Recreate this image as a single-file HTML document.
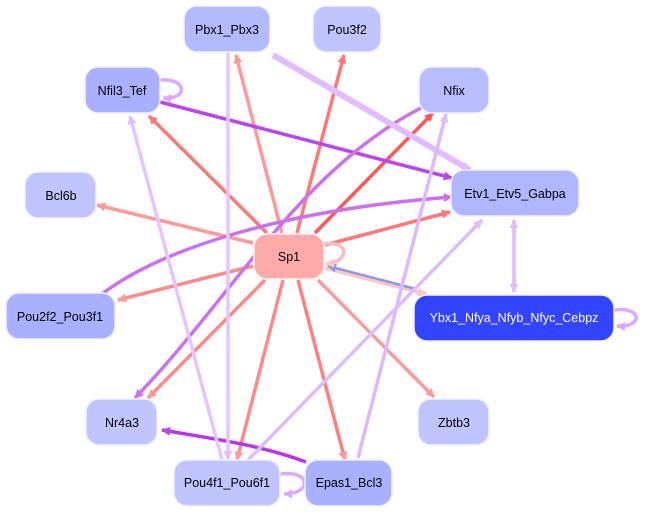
<!DOCTYPE html>
<html><head><meta charset="utf-8"><style>
html,body{margin:0;padding:0;background:#fff;}
svg{display:block;font-family:"Liberation Sans",sans-serif;}
</style></head><body>
<svg width="645" height="512" viewBox="0 0 645 512" xmlns="http://www.w3.org/2000/svg">
<defs>
<marker id="r1" viewBox="0 0 10 10" refX="9" refY="5" markerWidth="11" markerHeight="9" markerUnits="userSpaceOnUse" orient="auto"><path d="M0,0L10,5L0,10z" fill="#ff9999"/></marker>
<marker id="r2" viewBox="0 0 10 10" refX="9" refY="5" markerWidth="11" markerHeight="9" markerUnits="userSpaceOnUse" orient="auto"><path d="M0,0L10,5L0,10z" fill="#ff7777"/></marker>
<marker id="r3" viewBox="0 0 10 10" refX="9" refY="5" markerWidth="11" markerHeight="9" markerUnits="userSpaceOnUse" orient="auto"><path d="M0,0L10,5L0,10z" fill="#ff5555"/></marker>
<marker id="r4" viewBox="0 0 10 10" refX="9" refY="5" markerWidth="11" markerHeight="9" markerUnits="userSpaceOnUse" orient="auto"><path d="M0,0L10,5L0,10z" fill="#ffc4c4"/></marker>
<marker id="b1" viewBox="0 0 10 10" refX="9" refY="5" markerWidth="11" markerHeight="9" markerUnits="userSpaceOnUse" orient="auto"><path d="M0,0L10,5L0,10z" fill="#8899ee"/></marker>
<marker id="p1" viewBox="0 0 10 10" refX="9" refY="5" markerWidth="11" markerHeight="9" markerUnits="userSpaceOnUse" orient="auto"><path d="M0,0L10,5L0,10z" fill="#bb44ee"/></marker>
<marker id="p2" viewBox="0 0 10 10" refX="9" refY="5" markerWidth="11" markerHeight="9" markerUnits="userSpaceOnUse" orient="auto"><path d="M0,0L10,5L0,10z" fill="#cc70f0"/></marker>
<marker id="p3" viewBox="0 0 10 10" refX="9" refY="5" markerWidth="11" markerHeight="9" markerUnits="userSpaceOnUse" orient="auto"><path d="M0,0L10,5L0,10z" fill="#e2bcff"/></marker>
<marker id="p4" viewBox="0 0 10 10" refX="9" refY="5" markerWidth="11" markerHeight="9" markerUnits="userSpaceOnUse" orient="auto"><path d="M0,0L10,5L0,10z" fill="#dda8ff"/></marker>
</defs>
<g fill="none" stroke-width="3.5">
<line x1="282" y1="233" x2="236" y2="55" stroke="#ff9999" marker-end="url(#r1)"/>
<line x1="297" y1="233" x2="344" y2="55" stroke="#ff7777" marker-end="url(#r2)"/>
<line x1="267" y1="233" x2="149" y2="116" stroke="#ff7777" marker-end="url(#r2)"/>
<line x1="315" y1="233" x2="433" y2="113" stroke="#ff5555" marker-end="url(#r3)"/>
<line x1="253" y1="243" x2="97" y2="205" stroke="#ff9999" marker-end="url(#r1)"/>
<line x1="325" y1="245" x2="450" y2="212" stroke="#ff7777" marker-end="url(#r2)"/>
<line x1="253" y1="266" x2="118" y2="300" stroke="#ff8888" marker-end="url(#r1)"/>
<line x1="265" y1="280" x2="148" y2="398" stroke="#ff8888" marker-end="url(#r1)"/>
<line x1="318" y1="280" x2="434" y2="397" stroke="#ff9999" marker-end="url(#r1)"/>
<line x1="283" y1="280" x2="237" y2="460" stroke="#ff8888" marker-end="url(#r1)"/>
<line x1="298" y1="280" x2="345" y2="460" stroke="#ff8080" marker-end="url(#r1)"/>
<line x1="325" y1="268" x2="426" y2="294" stroke="#ffc4c4" marker-end="url(#r4)"/>
<line x1="416" y1="289" x2="328" y2="266" stroke="#8899ee" stroke-width="2.5" marker-end="url(#b1)"/>
<path d="M324,244 C350,240 350,262 326,264" stroke="#ffbbbb" marker-end="url(#r4)"/>
<line x1="160" y1="102" x2="452" y2="178" stroke="#bb44ee" marker-end="url(#p1)"/>
<path d="M421,108 C300,170 230,300 135,398" stroke="#cc70f0" marker-end="url(#p2)"/>
<path d="M102,294 C160,250 280,210 452,197" stroke="#cc70f0" marker-end="url(#p2)"/>
<path d="M306,462 C260,445 220,440 162,430" stroke="#bb33ee" marker-end="url(#p1)"/>
<line x1="273" y1="55" x2="470" y2="170" stroke="#e2bcff" stroke-width="6" marker-end="url(#p3)"/>
<line x1="228" y1="52" x2="228" y2="459" stroke="#e6c4ff" marker-end="url(#p3)"/>
<line x1="222" y1="460" x2="130" y2="116" stroke="#e6c4ff" marker-end="url(#p3)"/>
<line x1="358" y1="458" x2="446" y2="114" stroke="#ddb8ff" marker-end="url(#p3)"/>
<line x1="248" y1="460" x2="482" y2="220" stroke="#ddbbff" marker-end="url(#p3)"/>
<line x1="514" y1="292" x2="514" y2="220" stroke="#e2bcff" marker-end="url(#p3)"/>
<line x1="514" y1="223" x2="514" y2="292" stroke="#e2bcff" marker-end="url(#p3)"/>
<path d="M160,80 C188,78 188,100 163,98" stroke="#dda8ff" marker-end="url(#p4)"/>
<path d="M614,310 C643,306 643,328 617,326" stroke="#dda8ff" marker-end="url(#p4)"/>
<path d="M280,474 C312,470 312,494 284,494" stroke="#dda8ff" marker-end="url(#p4)"/>
</g>
<g stroke="#f0f0ff" stroke-width="1.5">
<rect x="184" y="6" width="86" height="46" rx="13" fill="#b4baff"/>
<rect x="313" y="6" width="68" height="46" rx="13" fill="#c0c4ff"/>
<rect x="85" y="67" width="75" height="46" rx="13" fill="#a9b0ff"/>
<rect x="419" y="67" width="70" height="46" rx="13" fill="#b8bdff"/>
<rect x="25" y="172" width="71" height="46" rx="13" fill="#c0c4ff"/>
<rect x="451" y="170" width="128" height="46" rx="13" fill="#b0b6ff"/>
<rect x="254" y="234" width="70" height="45" rx="13" fill="#ffaaaa" stroke="#fff0f0"/>
<rect x="6" y="293" width="109" height="46" rx="13" fill="#a9b0ff"/>
<rect x="414" y="295" width="200" height="46" rx="13" fill="#3344ff"/>
<rect x="86" y="399" width="71" height="46" rx="13" fill="#c0c4ff"/>
<rect x="418" y="399" width="71" height="46" rx="13" fill="#c0c4ff"/>
<rect x="174" y="460" width="106" height="46" rx="13" fill="#c0c4ff"/>
<rect x="305" y="460" width="87" height="46" rx="13" fill="#a9b0ff"/>
</g>
<g font-size="12.5" text-anchor="middle" fill="#000">
<text x="227" y="34">Pbx1_Pbx3</text>
<text x="347" y="34">Pou3f2</text>
<text x="122" y="95">Nfil3_Tef</text>
<text x="454" y="95">Nfix</text>
<text x="61" y="200">Bcl6b</text>
<text x="515" y="198">Etv1_Etv5_Gabpa</text>
<text x="289" y="261">Sp1</text>
<text x="60" y="321">Pou2f2_Pou3f1</text>
<text x="514" y="322" fill="#ffffff">Ybx1_Nfya_Nfyb_Nfyc_Cebpz</text>
<text x="122" y="427">Nr4a3</text>
<text x="454" y="427">Zbtb3</text>
<text x="227" y="487">Pou4f1_Pou6f1</text>
<text x="349" y="487">Epas1_Bcl3</text>
</g>
</svg>
</body></html>
